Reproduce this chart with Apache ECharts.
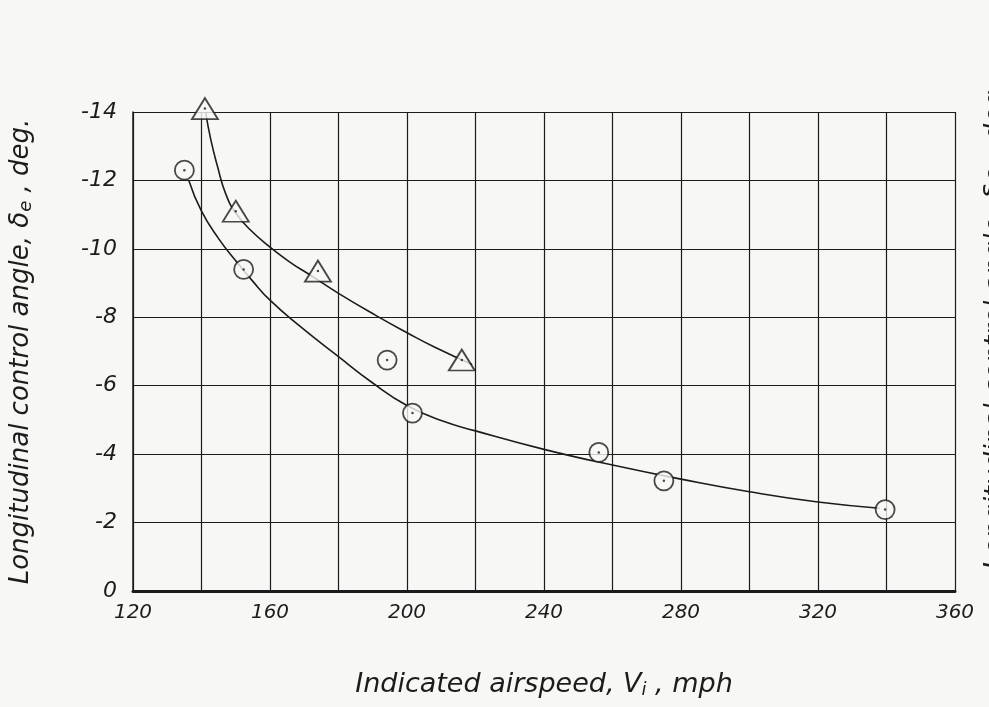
<!DOCTYPE html>
<html>
<head>
<meta charset="utf-8">
<title>Longitudinal control angle</title>
<script src="https://cdn.jsdelivr.net/npm/echarts@6/dist/echarts.min.js"></script>
<style>
    html, body { margin: 0; width: 100%; height: 100%; background: #f7f7f5; }
    #main { width: 989px; height: 707px; }
</style>
</head>
<body>
<div id="main"></div>
<script>
// test points: [airspeed mph, control angle deg]
var circlePts = [[135, -12.3], [152.3, -9.4], [194.2, -6.75], [201.6, -5.2], [256, -4.05], [275, -3.22], [339.6, -2.38]];
var trianglePts = [[141, -14.1], [150, -11.1], [174, -9.35], [216, -6.75]];

// faired curves as drawn
var circleCurve = [[136.3, -12.0], [140, -11.1], [145, -10.3], [150, -9.65], [155, -9.05], [160, -8.5], [168, -7.8],
    [180, -6.85], [190, -6.08], [200, -5.42], [210, -4.98], [220, -4.68], [240, -4.14], [260, -3.68], [280, -3.27],
    [300, -2.9], [320, -2.6], [338, -2.42]];
var triangleCurve = [[141.2, -14.0], [142.7, -13.2], [144.7, -12.4], [147.1, -11.6], [150, -11.05], [154.3, -10.55],
    [160, -10.05], [166, -9.6], [171.5, -9.25], [180, -8.7], [191, -8.05], [200, -7.55], [208, -7.13], [219, -6.62]];

var xTicks = [120, 160, 200, 240, 280, 320, 360];

var ink = '#1c1c1c';
var paper = '#f7f7f5';
var hand = '"DejaVu Sans", sans-serif';

var chart = echarts.init(document.getElementById('main'));

var option = {
    backgroundColor: paper,
    animation: false,
    grid: { left: 133, right: 34, top: 112, bottom: 116 },
    xAxis: {
        type: 'value',
        min: 120, max: 360, interval: 20,
        axisLine: { show: true, onZero: false, lineStyle: { color: ink, width: 3 } },
        axisTick: { show: false },
        splitLine: { show: true, lineStyle: { color: ink, width: 1.2 } },
        axisLabel: {
            color: ink, fontSize: 20, fontStyle: 'italic', fontFamily: hand, margin: 12,
            formatter: function (v) { return xTicks.indexOf(v) >= 0 ? String(v) : ''; }
        },
        name: 'Indicated airspeed, V{sub|i} , mph',
        nameLocation: 'middle',
        nameGap: 80,
        nameTextStyle: {
            color: ink, fontSize: 27, fontStyle: 'italic', fontFamily: hand,
            rich: { sub: { fontSize: 18, fontStyle: 'italic', fontFamily: hand, color: ink, padding: [10, 0, 0, 0] } }
        }
    },
    yAxis: {
        type: 'value',
        min: -14, max: 0, interval: 2,
        inverse: true,
        axisLine: { show: true, lineStyle: { color: ink, width: 1.5 } },
        axisTick: { show: false },
        splitLine: { show: true, lineStyle: { color: ink, width: 1.2 } },
        axisLabel: { color: ink, fontSize: 22, fontStyle: 'italic', fontFamily: hand, margin: 16 },
        name: 'Longitudinal control angle, δ{sub|e} , deg.',
        nameLocation: 'middle',
        nameGap: 98,
        nameRotate: 90,
        nameTextStyle: {
            color: ink, fontSize: 26, fontStyle: 'italic', fontFamily: hand,
            rich: { sub: { fontSize: 18, fontStyle: 'italic', fontFamily: hand, color: ink, padding: [10, 0, 0, 0] } }
        }
    },
    graphic: [{
        type: 'text',
        x: 996, y: 330,
        rotation: Math.PI / 2,
        style: {
            text: 'Longitudinal control angle, δe , deg',
            fill: ink, font: 'italic 27px "DejaVu Sans", sans-serif',
            align: 'center', verticalAlign: 'middle'
        }
    }],
    series: [
        {
            type: 'line', data: circleCurve, smooth: true, showSymbol: false,
            lineStyle: { color: ink, width: 1.6 }, z: 2
        },
        {
            type: 'line', data: triangleCurve, smooth: true, showSymbol: false,
            lineStyle: { color: ink, width: 1.6 }, z: 2
        },
        {
            type: 'scatter', data: circlePts, symbol: 'circle', symbolSize: 19, clip: false,
            itemStyle: { color: paper, borderColor: ink, borderWidth: 1.8 }, z: 3
        },
        {
            type: 'scatter', data: trianglePts, symbol: 'triangle', symbolSize: [26, 21], clip: false,
            itemStyle: { color: paper, borderColor: ink, borderWidth: 1.8 }, z: 3
        },
        {
            type: 'scatter', data: circlePts.concat(trianglePts), symbol: 'circle', symbolSize: 2.5, clip: false,
            itemStyle: { color: ink }, z: 4
        }
    ]
};

chart.setOption(option);
</script>
</body>
</html>
